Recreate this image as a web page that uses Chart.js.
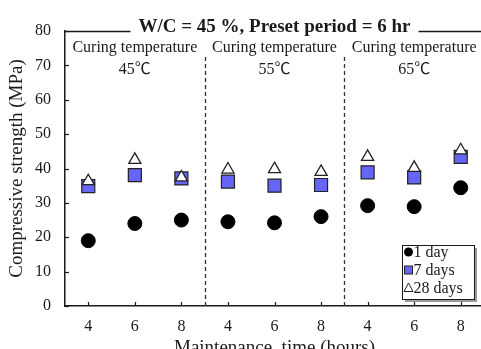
<!DOCTYPE html>
<html>
<head>
<meta charset="utf-8">
<script src="https://cdn.jsdelivr.net/npm/chart.js@4.4.0/dist/chart.umd.min.js"></script>
<style>
  html, body { margin: 0; padding: 0; background: #fff; overflow: hidden; }
  #wrap { width: 484px; height: 349px; }
</style>
</head>
<body>
<div id="wrap"><canvas id="strengthChart" width="484" height="349"></canvas></div>
<script>
// ============================================
// DATA
// ============================================
const maintenanceHours = ['4', '6', '8', '4', '6', '8', '4', '6', '8'];
const curingTemps = ['45℃', '55℃', '65℃'];
const oneDay = [19.0, 24.0, 25.0, 24.5, 24.2, 26.0, 29.2, 28.9, 34.4];
const sevenDays = [34.9, 38.1, 37.1, 36.2, 35.0, 35.2, 38.9, 37.4, 43.4];
const twentyEightDays = [36.3, 42.5, 37.4, 39.7, 39.8, 39.0, 43.4, 40.2, 45.3];
const yTicks = [0, 10, 20, 30, 40, 50, 60, 70, 80];
const seriesNames = ['1 day', '7 days', '28 days'];

const SERIF = '"Liberation Serif", "Times New Roman", "Noto Sans CJK JP", serif';
const INK = '#1a1a1a';

function toPoints(values) {
  return values.map((v, i) => ({ x: i, y: v }));
}

// ============================================
// FRAME, GROUP LABELS, TITLE AND LEGEND
// ============================================
const framePlugin = {
  id: 'frameAndLabels',

  beforeDatasetsDraw(chart) {
    const { ctx, chartArea, scales } = chart;
    const xs = scales.x;
    const ys = scales.y;
    ctx.save();

    // dashed separators between curing temperature groups
    ctx.strokeStyle = '#333';
    ctx.lineWidth = 1.3;
    ctx.setLineDash([4, 3]);
    [2.5, 5.5].forEach(v => {
      const px = Math.round(xs.getPixelForValue(v)) + 0.5;
      ctx.beginPath();
      ctx.moveTo(px, 57);
      ctx.lineTo(px, chartArea.bottom);
      ctx.stroke();
    });
    ctx.setLineDash([]);

    // inward tick marks
    ctx.strokeStyle = INK;
    ctx.lineWidth = 1.2;
    yTicks.forEach(v => {
      const py = Math.round(ys.getPixelForValue(v)) + 0.5;
      ctx.beginPath();
      ctx.moveTo(chartArea.left, py);
      ctx.lineTo(chartArea.left + 4, py);
      ctx.stroke();
    });
    maintenanceHours.forEach((_, i) => {
      const px = Math.round(xs.getPixelForValue(i)) + 0.5;
      ctx.beginPath();
      ctx.moveTo(px, chartArea.bottom);
      ctx.lineTo(px, chartArea.bottom - 4);
      ctx.stroke();
    });

    // group headings
    ctx.fillStyle = INK;
    ctx.textAlign = 'center';
    ctx.textBaseline = 'alphabetic';
    ctx.font = '16px ' + SERIF;
    curingTemps.forEach((t, g) => {
      const cx = xs.getPixelForValue(g * 3 + 1);
      ctx.fillText('Curing temperature', cx, 52);
      ctx.fillText(t, cx, 74);
    });

    // top border broken by the title
    const top = Math.round(chartArea.top) + 0.5;
    ctx.strokeStyle = INK;
    ctx.lineWidth = 1.3;
    ctx.beginPath();
    ctx.moveTo(chartArea.left, top);
    ctx.lineTo(chartArea.right, top);
    ctx.stroke();

    const title = 'W/C = 45 %, Preset period = 6 hr';
    ctx.font = 'bold 19px ' + SERIF;
    const cx = (chartArea.left + chartArea.right) / 2;
    const w = ctx.measureText(title).width;
    ctx.fillStyle = '#fff';
    ctx.fillRect(cx - w / 2 - 8, top - 3, w + 16, 6);
    ctx.fillStyle = INK;
    ctx.fillText(title, cx, top + 0.5);

    ctx.restore();
  },

  afterDraw(chart) {
    const { ctx } = chart;
    const box = { x: 402, y: 245, w: 72, h: 54 };
    ctx.save();

    // legend box with drop shadow
    ctx.fillStyle = '#9a9a9a';
    ctx.fillRect(box.x + 3, box.y + 3, box.w, box.h);
    ctx.fillStyle = '#fff';
    ctx.fillRect(box.x, box.y, box.w, box.h);
    ctx.strokeStyle = INK;
    ctx.lineWidth = 1;
    ctx.strokeRect(box.x + 0.5, box.y + 0.5, box.w, box.h);

    const mx = 408.5;
    const rows = [252, 270, 288];

    // 1 day: filled circle
    ctx.fillStyle = '#000';
    ctx.beginPath();
    ctx.arc(mx, rows[0], 4.5, 0, Math.PI * 2);
    ctx.fill();

    // 7 days: blue square
    ctx.fillStyle = '#6565f7';
    ctx.strokeStyle = '#222';
    ctx.fillRect(mx - 4, rows[1] - 4, 8, 8);
    ctx.strokeRect(mx - 4, rows[1] - 4, 8, 8);

    // 28 days: open triangle
    ctx.fillStyle = '#fff';
    ctx.beginPath();
    ctx.moveTo(mx, rows[2] - 5);
    ctx.lineTo(mx + 4.5, rows[2] + 3.5);
    ctx.lineTo(mx - 4.5, rows[2] + 3.5);
    ctx.closePath();
    ctx.fill();
    ctx.stroke();

    ctx.fillStyle = INK;
    ctx.font = '16px ' + SERIF;
    ctx.textAlign = 'left';
    ctx.textBaseline = 'alphabetic';
    seriesNames.forEach((name, i) => {
      ctx.fillText(name, 413.5, rows[i] + 5);
    });

    ctx.restore();
  }
};

// ============================================
// CHART
// ============================================
const ctx = document.getElementById('strengthChart').getContext('2d');

new Chart(ctx, {
  type: 'scatter',
  data: {
    datasets: [
      {
        label: seriesNames[0],
        data: toPoints(oneDay),
        pointStyle: 'circle',
        pointRadius: 7,
        backgroundColor: '#000',
        borderColor: '#000',
        borderWidth: 1,
        order: 3
      },
      {
        label: seriesNames[1],
        data: toPoints(sevenDays),
        pointStyle: 'rect',
        pointRadius: 9.2,
        backgroundColor: '#6565f7',
        borderColor: '#222',
        borderWidth: 1.2,
        order: 2
      },
      {
        label: seriesNames[2],
        data: toPoints(twentyEightDays),
        pointStyle: 'triangle',
        pointRadius: 7,
        backgroundColor: '#fff',
        borderColor: '#222',
        borderWidth: 1.3,
        order: 1
      }
    ]
  },
  options: {
    responsive: false,
    animation: false,
    // no extra room for point overflow: the plot runs to the canvas edge
    layout: { autoPadding: false, padding: { top: 31, left: 0, right: 0, bottom: 0 } },
    plugins: {
      legend: { display: false },
      tooltip: { enabled: false }
    },
    scales: {
      x: {
        type: 'linear',
        min: -0.5,
        max: 8.5,
        afterBuildTicks: scale => {
          scale.ticks = maintenanceHours.map((_, i) => ({ value: i }));
        },
        afterFit: scale => {
          scale.height = 43;
          scale.paddingLeft = 0;
          scale.paddingRight = 0;
        },
        // invisible tick length pushes the labels down without side padding
        grid: { display: false, drawTicks: true, tickLength: 11, tickColor: 'rgba(0,0,0,0)' },
        border: { display: true, color: INK, width: 1.5 },
        ticks: {
          padding: 0,
          color: INK,
          font: { family: SERIF, size: 16 },
          callback: value => maintenanceHours[value]
        },
        title: {
          display: true,
          text: 'Maintenance  time (hours)',
          color: INK,
          font: { family: SERIF, size: 19 },
          padding: { top: 0, bottom: -10 }
        }
      },
      y: {
        min: 0,
        max: 80,
        afterBuildTicks: scale => {
          scale.ticks = yTicks.map(v => ({ value: v }));
        },
        afterFit: scale => { scale.width = 65; },
        grid: { display: false, drawTicks: false },
        border: { display: true, color: INK, width: 1.5 },
        ticks: {
          padding: 14,
          color: INK,
          font: { family: SERIF, size: 16 }
        },
        title: {
          display: true,
          text: 'Compressive strength (MPa)',
          color: INK,
          font: { family: SERIF, size: 19 },
          padding: { top: 6, bottom: 0 }
        }
      }
    }
  },
  plugins: [framePlugin]
});
</script>
</body>
</html>
